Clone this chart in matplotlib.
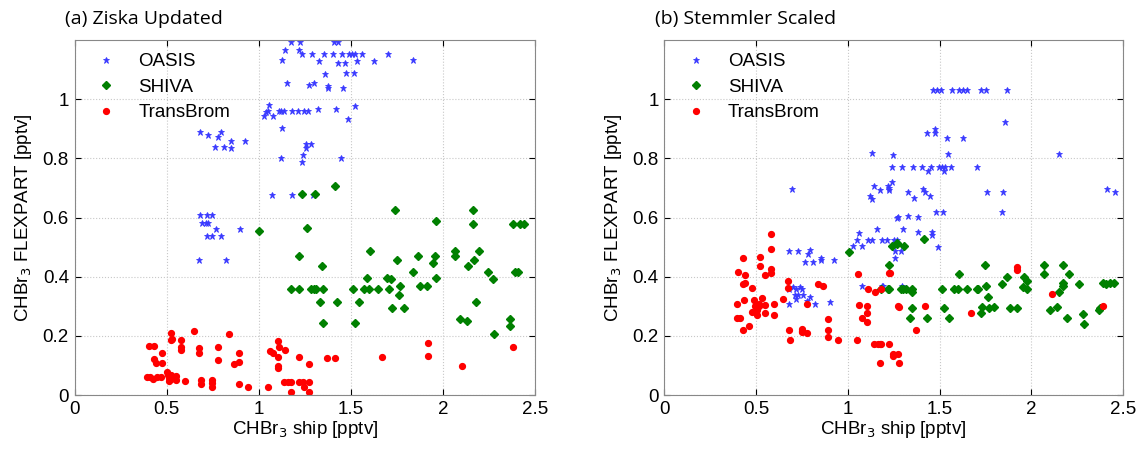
import matplotlib
matplotlib.use('Agg')
import matplotlib.pyplot as plt

plt.rcParams['font.family'] = ['Liberation Sans', 'DejaVu Sans']

# (a) Ziska Updated
a_oasis_x = [0.679, 0.725, 0.779, 0.793, 0.764, 0.809, 0.851, 0.851, 0.927,
             0.679, 0.721, 0.748, 0.694, 0.716, 0.727, 0.770, 0.898, 0.721, 0.748, 0.797, 0.676, 0.820,
             1.176, 1.226, 1.407, 1.428, 1.142, 1.217,
             1.235, 1.289, 1.356, 1.401, 1.452, 1.491, 1.506, 1.524, 1.560, 1.703,
             1.127, 1.326, 1.428, 1.470, 1.533, 1.623, 1.835,
             1.362, 1.474, 1.517, 1.154, 1.271, 1.302, 1.374, 1.378, 1.455,
             1.058, 1.049, 1.040, 1.028, 1.075, 1.109, 1.122, 1.136, 1.179, 1.215, 1.248, 1.266,
             1.322, 1.418, 1.523, 1.486, 1.127,
             1.257, 1.284, 1.257, 1.240, 1.121, 1.445, 1.234, 1.073, 1.183, 1.293]
a_oasis_y = [0.888, 0.879, 0.871, 0.888, 0.840, 0.840, 0.860, 0.835, 0.860,
             0.610, 0.610, 0.610, 0.581, 0.581, 0.581, 0.560, 0.560, 0.537, 0.537, 0.537, 0.455, 0.455,
             1.195, 1.195, 1.195, 1.195, 1.168, 1.168,
             1.154, 1.154, 1.154, 1.154, 1.154, 1.154, 1.154, 1.154, 1.154, 1.154,
             1.134, 1.129, 1.121, 1.121, 1.129, 1.129, 1.134,
             1.085, 1.090, 1.090, 1.055, 1.047, 1.055, 1.045, 1.039, 1.037,
             0.980, 0.960, 0.958, 0.944, 0.944, 0.959, 0.959, 0.959, 0.959, 0.959, 0.959, 0.959,
             0.968, 0.968, 0.977, 0.932, 0.902,
             0.848, 0.848, 0.835, 0.813, 0.803, 0.803, 0.788, 0.677, 0.677, 0.677]
a_shiva_x = [1.001, 1.262, 1.221, 1.176, 1.221, 1.235, 1.307, 1.413, 1.741, 2.165, 2.165, 1.964,
             2.382, 2.418, 2.439, 1.603, 1.862, 1.956, 2.066, 2.066, 2.196,
             1.749, 1.948, 2.166, 2.138, 1.344, 1.838, 2.246, 2.391, 2.408,
             1.589, 1.697, 1.719, 1.964, 2.273, 1.284, 1.302, 1.311, 1.347,
             1.510, 1.571, 1.596, 1.645, 1.705, 1.765, 1.874, 1.912, 1.763,
             1.333, 1.427, 1.546, 2.181, 1.723, 1.788,
             2.093, 2.129, 2.362, 2.363, 1.347, 1.522, 2.277]
a_shiva_y = [0.556, 0.564, 0.470, 0.359, 0.359, 0.679, 0.679, 0.707, 0.626, 0.626, 0.578, 0.587,
             0.578, 0.578, 0.578, 0.487, 0.470, 0.470, 0.487, 0.470, 0.487,
             0.455, 0.446, 0.455, 0.435, 0.435, 0.417, 0.417, 0.417, 0.417,
             0.395, 0.395, 0.391, 0.395, 0.391, 0.359, 0.359, 0.359, 0.359,
             0.359, 0.359, 0.359, 0.359, 0.359, 0.368, 0.368, 0.368, 0.337,
             0.315, 0.315, 0.315, 0.315, 0.296, 0.296,
             0.256, 0.250, 0.256, 0.233, 0.242, 0.242, 0.206]
a_trans_x = [0.405, 0.432, 0.432, 0.442, 0.477, 0.477, 0.394, 0.412, 0.427, 0.445, 0.468,
             0.503, 0.506, 0.512, 0.512, 0.521, 0.521, 0.523, 0.531, 0.523, 0.550, 0.553,
             0.580, 0.580, 0.580, 0.598, 0.647, 0.676, 0.676, 0.685, 0.685,
             0.748, 0.748, 0.748, 0.779, 0.779, 0.838, 0.864, 0.891, 0.891, 0.891, 0.941,
             1.049, 1.062, 1.077, 1.104, 1.109, 1.104, 1.102, 1.104, 1.143,
             1.136, 1.158, 1.176, 1.176, 1.221, 1.221, 1.239, 1.272, 1.244, 1.275, 1.275,
             1.369, 1.416, 1.667, 1.916, 1.916, 2.105, 2.381]
a_trans_y = [0.166, 0.166, 0.123, 0.107, 0.143, 0.107, 0.060, 0.060, 0.055, 0.062, 0.062,
             0.079, 0.067, 0.058, 0.046, 0.055, 0.067, 0.210, 0.191, 0.186, 0.066, 0.051,
             0.186, 0.164, 0.152, 0.046, 0.216, 0.160, 0.143, 0.050, 0.039,
             0.050, 0.042, 0.026, 0.164, 0.117, 0.208, 0.104, 0.111, 0.143, 0.037, 0.028,
             0.028, 0.149, 0.143, 0.183, 0.161, 0.128, 0.100, 0.090, 0.154,
             0.044, 0.044, 0.044, 0.012, 0.128, 0.044, 0.044, 0.044, 0.026, 0.104, 0.012,
             0.125, 0.126, 0.130, 0.176, 0.132, 0.099, 0.163]

# (b) Stemmler Scaled
b_oasis_x = [0.695, 1.131, 1.245, 1.240, 1.144, 1.176, 1.221, 1.227, 1.227, 1.240, 1.121, 1.131, 1.270,
             1.463, 1.484, 1.508, 1.566, 1.606, 1.630, 1.651, 1.724, 1.753, 1.869,
             1.856, 1.434, 1.475, 1.475, 1.539, 1.630, 1.544, 2.150,
             1.294, 1.357, 1.403, 1.454, 1.497, 1.512, 1.530, 1.563, 1.435, 1.526, 1.706,
             1.327, 1.363, 1.408, 1.421, 1.448, 1.757, 1.844, 2.413, 2.458,
             1.479, 1.521, 1.842, 1.276, 1.330, 1.381,
             1.303, 1.381, 1.460, 1.457, 1.494, 1.185, 1.216, 1.252, 1.270, 1.257, 1.288, 1.257,
             1.190, 1.294,
             0.682, 0.727, 0.786, 0.795, 0.768, 0.813, 0.853, 0.855, 0.927,
             0.679, 0.700, 0.720, 0.740, 0.750, 0.713, 0.717, 0.731, 0.755, 0.777, 0.795, 0.822, 0.679, 0.904,
             1.031, 1.049, 1.063, 1.076, 1.112, 1.130, 1.158, 1.076, 1.185]
b_oasis_y = [0.695, 0.817, 0.812, 0.771, 0.708, 0.693, 0.708, 0.700, 0.692, 0.719, 0.672, 0.663, 0.599,
             1.031, 1.031, 1.031, 1.031, 1.031, 1.031, 1.031, 1.031, 1.031, 1.031,
             0.923, 0.885, 0.898, 0.885, 0.870, 0.870, 0.816, 0.816,
             0.771, 0.771, 0.771, 0.771, 0.771, 0.771, 0.771, 0.771, 0.759, 0.757, 0.771,
             0.687, 0.666, 0.695, 0.687, 0.672, 0.687, 0.687, 0.695, 0.686,
             0.618, 0.618, 0.618, 0.601, 0.604, 0.601,
             0.562, 0.551, 0.551, 0.542, 0.501, 0.523, 0.523, 0.523, 0.523, 0.486, 0.486, 0.464,
             0.369, 0.369,
             0.488, 0.488, 0.478, 0.489, 0.449, 0.449, 0.463, 0.457, 0.457,
             0.360, 0.365, 0.357, 0.365, 0.358, 0.337, 0.324, 0.339, 0.339, 0.317, 0.332, 0.309, 0.307, 0.314,
             0.503, 0.523, 0.548, 0.503, 0.523, 0.523, 0.562, 0.369, 0.369]
b_shiva_x = [1.417, 1.239, 1.267, 1.270, 1.309, 1.225, 1.608, 1.747, 1.865, 1.842, 1.753,
             1.960, 1.974, 1.953, 1.974, 2.070, 2.070, 2.170, 2.206, 2.174, 2.174, 2.149, 2.259,
             2.391, 2.409, 2.427, 2.451, 1.227, 1.289, 1.303, 1.316, 1.352, 1.348,
             1.515, 1.579, 1.599, 1.652, 1.706, 1.711, 1.766,
             1.352, 1.526, 1.729, 1.769, 1.796, 1.883, 1.920, 1.724,
             1.339, 1.434, 1.552, 2.101, 2.138, 2.192, 2.283, 2.286, 2.368, 2.373,
             1.005, 1.179, 1.221]
b_shiva_y = [0.528, 0.503, 0.514, 0.512, 0.503, 0.441, 0.409, 0.440, 0.399, 0.376, 0.369,
             0.399, 0.384, 0.365, 0.359, 0.441, 0.409, 0.440, 0.409, 0.380, 0.369, 0.348, 0.376,
             0.380, 0.376, 0.380, 0.380, 0.358, 0.358, 0.358, 0.358, 0.358, 0.347,
             0.358, 0.358, 0.358, 0.358, 0.358, 0.358, 0.331,
             0.294, 0.294, 0.298, 0.294, 0.298, 0.294, 0.294, 0.277,
             0.260, 0.260, 0.260, 0.289, 0.298, 0.260, 0.275, 0.241, 0.289, 0.294,
             0.484, 0.358, 0.358]
b_trans_x = [1.230, 1.923, 1.923, 2.114, 1.281, 1.421, 1.671, 1.370, 2.392,
             1.176, 1.227, 1.245, 1.248, 1.275, 1.176, 1.279,
             0.581, 0.581, 0.523, 0.432, 0.523, 0.581, 0.581, 0.405, 0.443, 0.551, 0.428, 0.441,
             0.477, 0.677, 0.677, 0.837, 0.867, 0.649, 0.490, 0.437, 0.395, 0.533, 0.517, 0.550,
             0.599, 0.495, 0.517, 0.508, 0.508, 0.477, 0.550, 0.599, 0.395, 0.414, 0.428, 0.465,
             0.778, 0.682, 0.686, 0.749, 0.749, 0.749, 0.780, 0.891, 0.891, 0.891, 0.945, 1.052,
             1.058, 1.063, 1.079, 1.103, 1.107, 1.103, 1.112, 1.148, 1.179, 1.227, 1.276,
             1.143, 1.163, 1.181]
b_trans_y = [0.412, 0.432, 0.422, 0.342, 0.297, 0.301, 0.279, 0.220, 0.301,
             0.172, 0.172, 0.139, 0.133, 0.139, 0.107, 0.107,
             0.545, 0.495, 0.466, 0.463, 0.438, 0.427, 0.412, 0.415, 0.406, 0.406, 0.376, 0.378,
             0.362, 0.387, 0.362, 0.374, 0.369, 0.324, 0.322, 0.320, 0.307, 0.327, 0.307, 0.305,
             0.307, 0.300, 0.300, 0.289, 0.272, 0.282, 0.277, 0.272, 0.261, 0.261, 0.220, 0.234,
             0.307, 0.220, 0.186, 0.224, 0.217, 0.214, 0.210, 0.257, 0.220, 0.198, 0.186, 0.186,
             0.410, 0.303, 0.261, 0.300, 0.276, 0.246, 0.359, 0.350, 0.358, 0.414, 0.300,
             0.172, 0.172, 0.172]

panels = [
    ('(a) Ziska Updated', a_oasis_x, a_oasis_y, a_shiva_x, a_shiva_y, a_trans_x, a_trans_y),
    ('(b) Stemmler Scaled', b_oasis_x, b_oasis_y, b_shiva_x, b_shiva_y, b_trans_x, b_trans_y),
]
positions = [[0.0652, 0.122, 0.4030, 0.789], [0.5810, 0.122, 0.4016, 0.789]]

fig = plt.figure(figsize=(11.43, 4.5), dpi=100)
for pos, (title, ox, oy, sx, sy, tx, ty) in zip(positions, panels):
    ax = fig.add_axes(pos)
    ax.plot(ox, oy, '*', color='#3a3aff', markersize=5, markeredgewidth=0.6, label='OASIS')
    ax.plot(sx, sy, 'D', color='#008000', markersize=3.8, label='SHIVA')
    ax.plot(tx, ty, 'o', color='#ff0000', markersize=4.2, label='TransBrom')
    ax.set_xlim(0, 2.5)
    ax.set_ylim(0, 1.2)
    ax.set_xticks([0, 0.5, 1, 1.5, 2, 2.5])
    ax.set_xticklabels(['0', '0.5', '1', '1.5', '2', '2.5'])
    ax.set_yticks([0, 0.2, 0.4, 0.6, 0.8, 1])
    ax.set_yticklabels(['0', '0.2', '0.4', '0.6', '0.8', '1'])
    ax.grid(True, linestyle=':', color='#c8c8c8', linewidth=0.8)
    ax.tick_params(direction='in', top=True, right=True, labelsize=13.5, colors='black',
                   length=4, pad=4)
    for s in ax.spines.values():
        s.set_color('#888888')
    ax.set_xlabel('CHBr$_3$ ship [pptv]', fontsize=13.5, labelpad=1)
    ax.set_ylabel('CHBr$_3$ FLEXPART [pptv]', fontsize=13.5, labelpad=6)
    ax.legend(loc='upper left', frameon=False, fontsize=13.5, handletextpad=0.7,
              borderaxespad=0.3, labelspacing=0.45, markerscale=1.0)
    ax.text(-0.02, 1.035, title, transform=ax.transAxes, fontsize=14,
            family=['Open Sans', 'DejaVu Sans'], ha='left', va='bottom')

fig.savefig('out.png', dpi=100)
